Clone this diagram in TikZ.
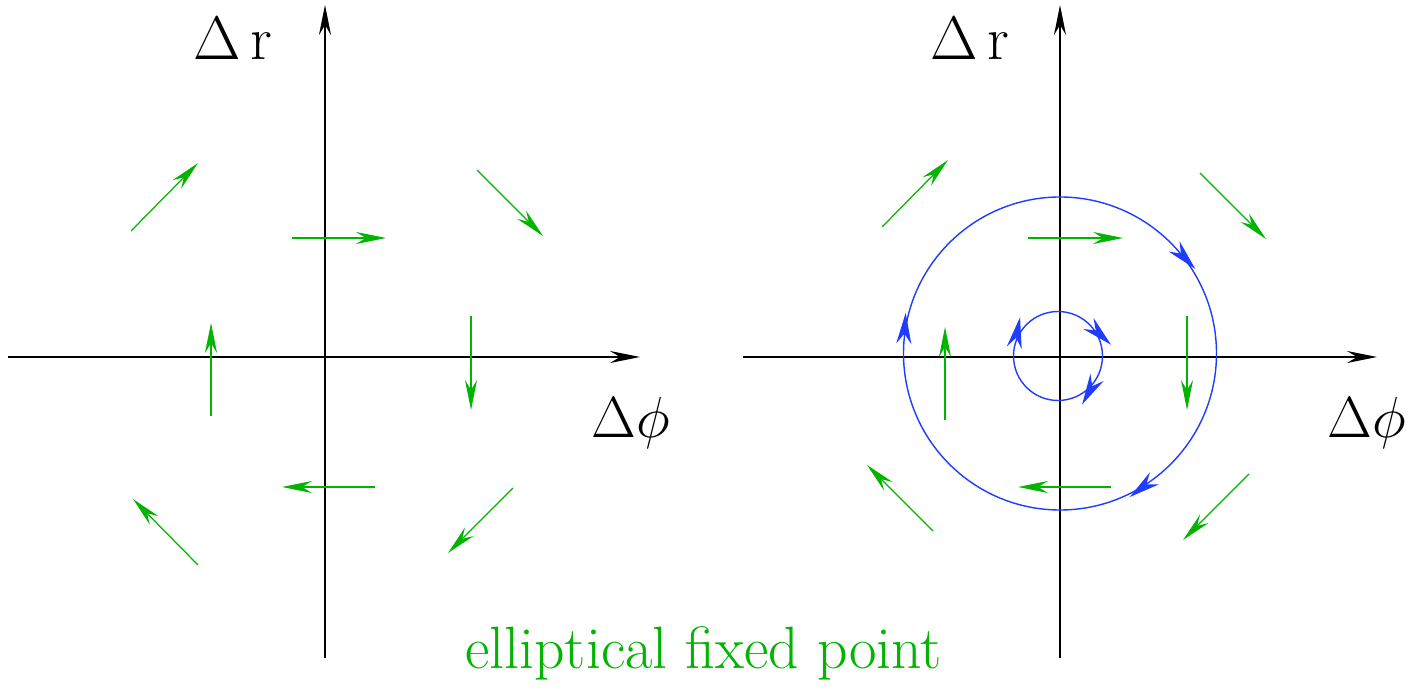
\RequirePackage{fix-cm}
\documentclass[tikz,border=0pt]{standalone}
\usetikzlibrary{arrows.meta, decorations.markings}
\definecolor{fieldgreen}{HTML}{00B400}
\definecolor{orbitblue}{HTML}{1F3CFF}
\definecolor{ink}{HTML}{000000}

\begin{document}
\begin{tikzpicture}[
    x=0.02cm, y=0.02cm,
    >={Stealth[length=0.6cm, width=0.24cm, inset=0.2cm]},
    axis/.style={->, line width=0.8pt, ink},
    flow/.style={->, line width=0.7pt, fieldgreen},
    % orbit line, arrow tips added by markings
    orbit/.style={line width=0.8pt, orbitblue, postaction={decorate}},
    lbl/.style={anchor=base, inner sep=0pt, font=\fontsize{35}{40}\selectfont},
    lblphi/.style={anchor=base, inner sep=0pt, font=\fontsize{33}{38}\selectfont}
]
\useasboundingbox (0,0) rectangle (1417,690);

% ========== LEFT PANEL: field only ==========
\draw[axis] (8,333) -- (640,333);
\draw[axis] (325,32) -- (325,685);
\node[lbl] (drL) at (233,630) {$\Delta\,\mathrm{r}$};
\node[lblphi] (dphiL) at (631,252) {$\Delta\phi$};

\draw[flow] (131,459) -- (198,527);
\draw[flow] (292,452) -- (386,452);
\draw[flow] (477,520) -- (543,454);
\draw[flow] (211,274) -- (211,367);
\draw[flow] (471,374) -- (471,280);
\draw[flow] (375,203) -- (282,203);
\draw[flow] (198,125) -- (133,191);
\draw[flow] (513,202) -- (448,137);

% ========== RIGHT PANEL: field + orbits ==========
\draw[axis] (743,333) -- (1377,333);
\draw[axis] (1060,32) -- (1060,685);
\node[lbl] (drR) at (970,630) {$\Delta\,\mathrm{r}$};
\node[lblphi] (dphiR) at (1367,252) {$\Delta\phi$};

\draw[flow] (882,463) -- (948,530);
\draw[flow] (1028,452) -- (1123,452);
\draw[flow] (1200,517) -- (1266,451);
\draw[flow] (945,270) -- (945,363);
\draw[flow] (1187,374) -- (1187,280);
\draw[flow] (1111,203) -- (1018,203);
\draw[flow] (933,159) -- (867,225);
\draw[flow] (1249,216) -- (1183,150);

% --- orbits (clockwise) ---
\begin{scope}[>={Stealth[length=0.62cm, width=0.3cm, inset=0.2cm]}]
\draw[orbit, decoration={markings,
        mark=at position 0.12 with {\arrow{<}},
        mark=at position 0.49 with {\arrow{<}},
        mark=at position 0.853 with {\arrow{<}}}]
    (1060,336.5) circle [radius=156.5];
\draw[orbit, decoration={markings,
        mark=at position 0.13 with {\arrow{<}},
        mark=at position 0.47 with {\arrow{<}},
        mark=at position 0.92 with {\arrow{<}}}]
    (1058,334) circle [radius=44.5];
\end{scope}

% ========== Caption ==========
\node[anchor=base west, inner sep=0pt, text=fieldgreen,
      font=\fontsize{34}{38}\selectfont] (cap) at (465,22) {elliptical fixed point};

\end{tikzpicture}
\end{document}
